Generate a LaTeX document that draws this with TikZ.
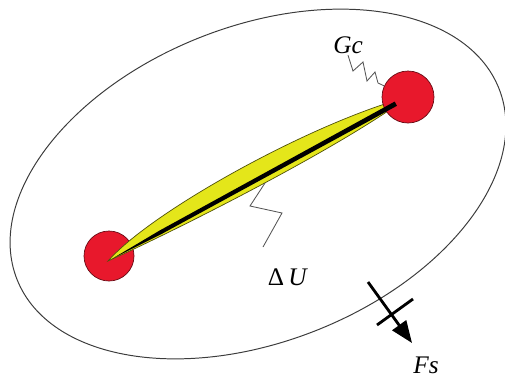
\documentclass[tikz,border=0pt]{standalone}
\usepackage{fontspec}
\setmainfont{Liberation Serif}
\usetikzlibrary{arrows.meta}
\definecolor{ink}{HTML}{1A1A1A}
\definecolor{blob}{HTML}{E8182C}
\definecolor{lemon}{HTML}{E4E61A}
\definecolor{wire}{HTML}{555555}

\begin{document}
\begin{tikzpicture}[font=\fontsize{18}{21}\selectfont,
  joint/.style={circle,fill=blob,draw=blob!45!black,line width=.5pt,minimum size=1.25cm,inner sep=0pt},
  leader/.style={wire,line width=.6pt},
  tag/.style={inner sep=1pt}]
\useasboundingbox (0,0) rectangle (12.625,9.425);
% body boundary
\draw[ink!85,line width=.7pt,rotate around={21.6:(6.45,4.825)}] (6.45,4.825) ellipse (6.48 and 3.94);
% left joint
\node[joint] (jl) at (2.725,3.025) {};
% process zone
\begin{scope}[shift={(2.7,2.9)},rotate=28.66]
\fill[lemon,draw=lemon!35!black,line width=.5pt] (0,0) .. controls (1.6,0.58) and (6.2,0.58) .. (8.55,0)
  .. controls (6.4,-0.3) and (1.8,-0.14) .. cycle;
\end{scope}
% right joint
\node[joint,minimum size=1.3cm] (jr) at (10.2,7.0) {};
% crack
\begin{scope}[shift={(2.7,2.9)},rotate=28.66]
\fill[black] (0.1,0) -- (1.5,0.05) -- (8.2,0.06) -- (8.2,-0.06) -- (1.5,-0.05) -- cycle;
\end{scope}
% labels and leaders
\node[tag] (gc) at (8.7,8.3) {\textit{Gc}};
\draw[leader] (gc.south) -- (8.825,7.65) -- (9.075,7.875) -- (9.175,7.4) -- (9.375,7.625) -- (9.45,7.35) -- (jr);
\node[tag] (du) at (7.2,2.5) {Δ\,\textit{U}};
\coordinate (duroot) at (6.625,4.85);
\coordinate (duend) at (6.575,3.25);
\draw[leader] (duroot) -- (6.25,4.275) -- (7.05,4.1) -- (duend);
% surface force
\coordinate (fstail) at (9.2,2.375);
\coordinate (fstip) at (10.3,0.85);
\coordinate (barA) at (9.425,1.3);
\coordinate (barB) at (10.325,1.95);
\draw[-{Triangle[length=0.55cm,width=0.42cm]},line width=2pt] (fstail) -- (fstip);
\draw[line width=2pt] (barA) -- (barB);
\node[tag,anchor=base] (fs) at (10.65,0.1) {\textit{Fs}};
\end{tikzpicture}
\end{document}
